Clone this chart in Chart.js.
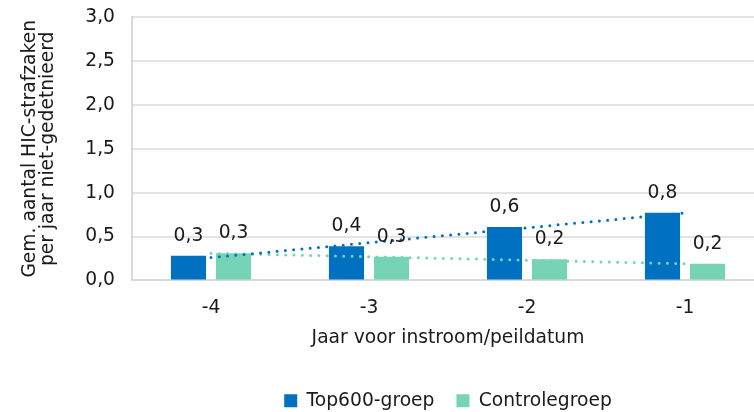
<!DOCTYPE html>
<html>
<head>
<meta charset="utf-8">
<script src="https://cdn.jsdelivr.net/npm/chart.js@4"></script>
<style>
  html, body { margin: 0; padding: 0; background: #fff; overflow: hidden; }
  #wrap { width: 764px; height: 412px; }
</style>
</head>
<body>
<div id="wrap"><canvas id="chart"></canvas></div>
<script>
// data
const categories = ['-4', '-3', '-2', '-1'];
const top600 = [0.28, 0.39, 0.61, 0.77];
const controle = [0.31, 0.27, 0.24, 0.19];
// dotted trend lines (linear), values at each category
const top600Trend = [0.26, 0.43, 0.60, 0.77];
const controleTrend = [0.31, 0.27, 0.23, 0.19];
const yTicks = [0, 0.5, 1, 1.5, 2, 2.5, 3];

const blue = '#0070C0';
const green = '#76D3B6';
const fontFamily = '"DejaVu Sans", Verdana, sans-serif';
const fs = 18.7;

function comma(v) {
  return v.toFixed(1).replace('.', ',');
}

// value labels above the bars
const barLabels = {
  id: 'barLabels',
  afterDatasetsDraw(chart) {
    const ctx = chart.ctx;
    ctx.save();
    ctx.font = fs + 'px ' + fontFamily;
    ctx.fillStyle = '#1a1a1a';
    ctx.textAlign = 'center';
    ctx.textBaseline = 'middle';
    chart.data.datasets.forEach((ds, i) => {
      if (ds.type !== 'bar') return;
      chart.getDatasetMeta(i).data.forEach((bar, j) => {
        ctx.fillText(comma(ds.data[j]), bar.x, bar.y - 20);
      });
    });
    ctx.restore();
  }
};

Chart.defaults.font.family = fontFamily;
Chart.defaults.font.size = fs;
Chart.defaults.color = '#1a1a1a';

const ctx = document.getElementById('chart').getContext('2d');
const chart = new Chart(ctx, {
  type: 'bar',
  data: {
    labels: categories,
    datasets: [
      {
        type: 'line', label: 'trend Top600', data: top600Trend,
        borderColor: blue, borderWidth: 3, borderDash: [0, 8.3], borderCapStyle: 'round',
        pointRadius: 0, fill: false, tension: 0
      },
      {
        type: 'line', label: 'trend Controle', data: controleTrend,
        borderColor: green, borderWidth: 3, borderDash: [0, 8.3], borderCapStyle: 'round',
        pointRadius: 0, fill: false, tension: 0
      },
      {
        type: 'bar', label: 'Top600-groep', data: top600,
        backgroundColor: blue, categoryPercentage: 0.57, barPercentage: 0.78
      },
      {
        type: 'bar', label: 'Controlegroep', data: controle,
        backgroundColor: green, categoryPercentage: 0.57, barPercentage: 0.78
      }
    ]
  },
  options: {
    responsive: true,
    maintainAspectRatio: false,
    animation: false,
    layout: { padding: { left: 21, right: 0, top: 0, bottom: -8 } },
    plugins: {
      tooltip: { enabled: false },
      legend: {
        position: 'bottom',
        fullSize: false,
        labels: {
          filter: (item) => !item.text.startsWith('trend'),
          boxWidth: 13,
          boxHeight: 13,
          padding: 22,
          color: '#1a1a1a',
          font: { size: fs }
        }
      }
    },
    scales: {
      x: {
        grid: { display: false, drawTicks: false },
        border: { color: '#d9d9d9', width: 2 },
        ticks: { padding: 17 },
        title: {
          display: true,
          text: 'Jaar voor instroom/peildatum',
          padding: { top: -10, bottom: 20 }
        }
      },
      y: {
        min: 0,
        max: 3,
        afterBuildTicks: (axis) => { axis.ticks = yTicks.map(v => ({ value: v })); },
        ticks: { callback: (v) => comma(v), padding: 6 },
        grid: { color: '#e3e3e3', lineWidth: 2, drawTicks: true, tickLength: 11, tickColor: 'rgba(0,0,0,0)' },
        border: { color: '#d9d9d9', width: 2 },
        title: {
          display: true,
          text: ['Gem. aantal HIC-strafzaken', 'per jaar niet-gedetnieerd'],
          font: { size: fs, lineHeight: 0.97 },
          padding: { top: 0, bottom: 22 }
        }
      }
    }
  },
  plugins: [barLabels]
});
</script>
</body>
</html>
